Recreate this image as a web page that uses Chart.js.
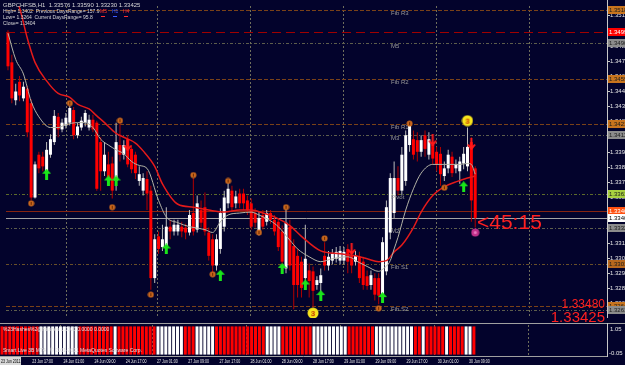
<!DOCTYPE html>
<html>
<head>
<meta charset="utf-8">
<title>GBPCHF H1</title>
<script src="https://cdn.jsdelivr.net/npm/chart.js"></script>
<style>
  html, body { margin: 0; padding: 0; background: #03032c; }
  #wrap { position: relative; width: 625px; height: 365px; overflow: hidden; background: #03032c; }
  #wrap canvas { position: absolute; left: 0; }
  #mainChart { top: 0; }
  #subChart { top: 321px; }
</style>
</head>
<body>
<div id="wrap">
  <canvas id="mainChart" width="625" height="324"></canvas>
  <canvas id="subChart" width="625" height="44"></canvas>
</div>
<script>
// GBPCHF H1, one entry per hourly bar, 23 Jun 09:00 -> 30 Jun 2011
const barOpen = [
  1.34987, 1.34737, 1.34412, 1.3457, 1.34428, 1.34512, 1.34387, 1.33578, 1.33945, 1.33928,
  1.33803, 1.33945, 1.34053, 1.3427, 1.34162, 1.34195, 1.3422, 1.34328, 1.34112, 1.34178,
  1.3422, 1.34178, 1.34245, 1.3422, 1.34053, 1.33803, 1.33862, 1.3387, 1.3372, 1.34028,
  1.33945, 1.34078, 1.33995, 1.33945, 1.3372, 1.33637, 1.33737, 1.33637, 1.32887, 1.33245,
  1.33153, 1.33162, 1.33328, 1.33287, 1.33287, 1.33328, 1.3332, 1.33278, 1.33445, 1.33303,
  1.3347, 1.33495, 1.33278, 1.3322, 1.32995, 1.33137, 1.33328, 1.33528, 1.33637, 1.33528,
  1.33612, 1.33612, 1.33553, 1.33528, 1.33445, 1.33287, 1.33428, 1.3337, 1.33445, 1.33387,
  1.3337, 1.33287, 1.3297, 1.33328, 1.33162, 1.33078, 1.33028, 1.32887, 1.32953, 1.32945,
  1.32828, 1.32845, 1.33078, 1.32995, 1.33037, 1.33053, 1.33037, 1.33037, 1.33137, 1.33078,
  1.33028, 1.3307, 1.33028, 1.32903, 1.32828, 1.32887, 1.32887, 1.32745, 1.32945, 1.33278,
  1.33445, 1.33745, 1.33637, 1.3372, 1.34028, 1.34078, 1.3407, 1.3397, 1.34112, 1.33945,
  1.34028, 1.3397, 1.33953, 1.33762, 1.33828, 1.33928, 1.33828, 1.33803, 1.3387, 1.33845,
  1.34053, 1.33828
];
const barHigh = [
  1.35012, 1.34803, 1.34553, 1.3462, 1.3457, 1.34537, 1.3442, 1.33887, 1.3397, 1.3397,
  1.34053, 1.3412, 1.34328, 1.34303, 1.34253, 1.34303, 1.34362, 1.34353, 1.3422, 1.3427,
  1.34328, 1.34287, 1.34287, 1.34237, 1.34095, 1.34053, 1.3397, 1.33928, 1.3422, 1.3422,
  1.3407, 1.34112, 1.34028, 1.3397, 1.33845, 1.33787, 1.33803, 1.33678, 1.33262, 1.33287,
  1.33345, 1.33495, 1.33387, 1.33387, 1.33387, 1.3337, 1.33353, 1.3347, 1.33745, 1.33595,
  1.33553, 1.3362, 1.3332, 1.33262, 1.33262, 1.33487, 1.33637, 1.3372, 1.33678, 1.33637,
  1.33653, 1.33653, 1.33595, 1.3357, 1.33487, 1.33453, 1.3347, 1.3347, 1.3347, 1.33428,
  1.33403, 1.33337, 1.33487, 1.33387, 1.3322, 1.33137, 1.3307, 1.33345, 1.33012, 1.32987,
  1.32903, 1.3297, 1.33195, 1.3312, 1.33137, 1.33153, 1.33162, 1.33153, 1.33178, 1.3312,
  1.3312, 1.33112, 1.3307, 1.32953, 1.32953, 1.32928, 1.32928, 1.33237, 1.33553, 1.33787,
  1.33887, 1.33845, 1.34012, 1.34153, 1.34203, 1.34153, 1.34137, 1.34112, 1.34153, 1.34137,
  1.3407, 1.34012, 1.34012, 1.33887, 1.33987, 1.3397, 1.33903, 1.33928, 1.34012, 1.34178,
  1.34095, 1.33845
];
const barLow = [
  1.3467, 1.34387, 1.3437, 1.34403, 1.34403, 1.34095, 1.33553, 1.3357, 1.33787, 1.33803,
  1.33787, 1.3392, 1.34028, 1.34095, 1.34137, 1.3417, 1.34195, 1.34078, 1.34087, 1.34153,
  1.34187, 1.34153, 1.34137, 1.33637, 1.33637, 1.33762, 1.3372, 1.3357, 1.33637, 1.33887,
  1.33903, 1.33837, 1.33787, 1.33737, 1.33678, 1.33595, 1.3347, 1.32787, 1.32845, 1.33095,
  1.3312, 1.33137, 1.3322, 1.33253, 1.33253, 1.33237, 1.3322, 1.33253, 1.33253, 1.33278,
  1.3332, 1.33253, 1.33037, 1.32928, 1.32953, 1.33095, 1.33287, 1.33487, 1.33453, 1.33487,
  1.33487, 1.3347, 1.33428, 1.33303, 1.3332, 1.33253, 1.33303, 1.33337, 1.33353, 1.33253,
  1.3312, 1.32987, 1.32928, 1.32953, 1.3262, 1.3272, 1.3272, 1.32803, 1.3272, 1.32637,
  1.32787, 1.32762, 1.32953, 1.32953, 1.33003, 1.3302, 1.33003, 1.33003, 1.32928, 1.32928,
  1.32995, 1.32845, 1.32787, 1.32787, 1.32787, 1.32695, 1.32662, 1.3272, 1.32912, 1.3322,
  1.33403, 1.33595, 1.33595, 1.33678, 1.3397, 1.33903, 1.33887, 1.33928, 1.33928, 1.33903,
  1.33862, 1.33803, 1.33678, 1.3372, 1.33787, 1.33753, 1.33787, 1.33695, 1.3382, 1.33803,
  1.3337, 1.3332
];
const barClose = [
  1.34703, 1.34428, 1.34487, 1.34453, 1.34528, 1.34137, 1.33578, 1.33862, 1.33828, 1.33845,
  1.33987, 1.34078, 1.34278, 1.34162, 1.3422, 1.34262, 1.34345, 1.34112, 1.34187, 1.34237,
  1.34303, 1.34245, 1.34162, 1.33653, 1.33803, 1.33945, 1.33745, 1.33637, 1.34053, 1.33945,
  1.34028, 1.33862, 1.3382, 1.33787, 1.33778, 1.33745, 1.33612, 1.32887, 1.3322, 1.33137,
  1.3322, 1.33328, 1.33287, 1.33345, 1.33345, 1.33287, 1.33278, 1.33428, 1.33287, 1.33528,
  1.33362, 1.33287, 1.33078, 1.32995, 1.3322, 1.33445, 1.33578, 1.33653, 1.33495, 1.33587,
  1.33528, 1.33528, 1.3347, 1.33328, 1.33362, 1.33403, 1.33328, 1.33445, 1.33387, 1.33287,
  1.33153, 1.33028, 1.33362, 1.32995, 1.32828, 1.32828, 1.32803, 1.33053, 1.32862, 1.32778,
  1.3287, 1.32912, 1.32995, 1.3307, 1.33095, 1.33112, 1.3312, 1.33112, 1.33028, 1.32995,
  1.33078, 1.32887, 1.32828, 1.3282, 1.32912, 1.32745, 1.32737, 1.33195, 1.33495, 1.33745,
  1.33745, 1.33637, 1.33945, 1.34112, 1.34195, 1.33945, 1.3397, 1.3407, 1.33995, 1.34078,
  1.33912, 1.33862, 1.33778, 1.33828, 1.33945, 1.33787, 1.33862, 1.33887, 1.33953, 1.34012,
  1.33553, 1.33403
];

// moving averages, read at the bars where they were traced
const maRedBar = [0, 3, 5, 7, 10, 13, 16, 18, 21, 23, 25, 28, 30, 33, 35, 38, 40, 44, 48, 52,
  56, 60, 63, 66, 69, 73, 76, 81, 86, 90, 93, 96, 98, 100, 102, 105, 107, 110, 113, 116, 119, 121];
const maRedVal = [1.35428, 1.35203, 1.34945, 1.34737, 1.34578, 1.3447, 1.34437, 1.34378, 1.34337, 1.34278,
  1.3422, 1.34128, 1.34095, 1.34045, 1.33978, 1.33845, 1.33695, 1.3352, 1.33495, 1.3347,
  1.33453, 1.3347, 1.3347, 1.33445, 1.33412, 1.33337, 1.33245, 1.3312, 1.33095, 1.33078,
  1.33053, 1.33028, 1.33037, 1.33112, 1.3317, 1.3332, 1.33453, 1.33595, 1.3367, 1.33712,
  1.33745, 1.33762];
const maGrayBar = [0, 2, 4, 6, 8, 11, 13, 15, 18, 20, 22, 24, 26, 28, 30, 32, 34, 36, 39, 41,
  44, 47, 51, 53, 55, 57, 60, 63, 65, 68, 70, 73, 75, 78, 81, 84, 88, 91, 93, 96,
  97, 99, 100, 101, 103, 105, 107, 110, 114, 117, 119, 120, 121];
const maGrayVal = [1.34987, 1.34762, 1.34637, 1.34403, 1.3427, 1.34178, 1.34178, 1.34203, 1.3422, 1.3422,
  1.34178, 1.34078, 1.34028, 1.33987, 1.33953, 1.33887, 1.33853, 1.33828, 1.33553, 1.33412,
  1.33362, 1.33328, 1.33303, 1.33278, 1.3337, 1.33428, 1.33445, 1.33453, 1.33428, 1.33378,
  1.33328, 1.33212, 1.33137, 1.3307, 1.33028, 1.33053, 1.3307, 1.3302, 1.32987, 1.32945,
  1.32962, 1.33037, 1.33137, 1.33237, 1.3347, 1.33653, 1.33787, 1.33862, 1.33862, 1.33862,
  1.3387, 1.33862, 1.33778];

// lower window: 1 = white bar, 0 = red bar
const histUp = [
  0, 0, 0, 0, 0, 0, 0, 0, 0, 0, 1, 1, 1, 1, 1, 1, 1, 1, 1, 1,
  0, 0, 0, 0, 0, 0, 0, 0, 0, 1, 0, 0, 0, 0, 0, 0, 0, 0, 0, 0,
  1, 1, 1, 1, 1, 1, 1, 0, 0, 0, 1, 1, 1, 1, 1, 0, 0, 0, 0, 0,
  0, 0, 0, 0, 0, 0, 0, 0, 1, 1, 1, 1, 0, 0, 0, 0, 0, 0, 0, 0,
  1, 1, 1, 1, 1, 1, 1, 1, 1, 0, 0, 0, 0, 0, 0, 0, 1, 1, 1, 1,
  1, 1, 1, 1, 1, 1, 0, 0, 1, 0, 0, 0, 0, 0, 1, 0, 0, 0, 0, 1,
  1, 0
];

const priceTicks = [1.3514, 1.3501, 1.3488, 1.3475, 1.3462, 1.3449, 1.3436, 1.3423, 1.341, 1.3397,
  1.3384, 1.3371, 1.3358, 1.3345, 1.3332, 1.3319, 1.3306, 1.3293, 1.328, 1.3267];
const timeLabelBars = [8, 16, 24, 32, 40, 48, 56, 64, 72, 80, 88, 96, 104, 112, 120];
const timeLabels = ['23 Jun 17:00', '24 Jun 01:00', '24 Jun 09:00', '24 Jun 17:00', '27 Jun 01:00',
  '27 Jun 09:00', '27 Jun 17:00', '28 Jun 01:00', '28 Jun 09:00', '28 Jun 17:00', '29 Jun 01:00',
  '29 Jun 09:00', '29 Jun 17:00', '30 Jun 01:00', '30 Jun 09:00'];

const levelPrices = [1.35187, 1.34995, 1.34903, 1.34595, 1.34212, 1.34112, 1.33612, 1.33462, 1.33403,
  1.3332, 1.33012, 1.32645, 1.32612];
const levelNames = ['Fib R3', '', 'M5', 'Fib R2', 'Fib R1', 'M3', 'Pivot', '', '', 'M2', 'Fib S1', 'Fib S2', ''];

const fractalBars = [6, 16, 27, 29, 37, 48, 53, 57, 65, 72, 82, 96, 104, 113];
const fractalPrices = [1.33528, 1.34387, 1.33495, 1.34237, 1.32745, 1.3377, 1.3292, 1.3372, 1.33278,
  1.33495, 1.33228, 1.32628, 1.34212, 1.33662];
const upArrowBars = [10, 26, 28, 41, 55, 71, 77, 81, 97, 118];
const upArrowPrices = [1.33778, 1.3372, 1.3372, 1.33137, 1.32912, 1.3297, 1.32828, 1.32737, 1.3272, 1.3367];
const downArrowBars = [31, 89, 110, 120];
const downArrowPrices = [1.34028, 1.33137, 1.3407, 1.34037];
const wave3Bars = [79, 119];
const wave3Prices = [1.32587, 1.34237];
const targetBars = [121];
const targetPrices = [1.33278];

// ---- look ----
const FONT = '"Liberation Sans", Arial, sans-serif';
const BULL = '#ffffff';
const BEAR = '#ff0000';
const AXIS = '#c8c8c8';
const GRID = '#6e6e5c';
const PX_PER_BAR = 3.9;
const xMin = -0.513;
const xMax = xMin + 607 / PX_PER_BAR;
const yMax = 1.3522;
const yMin = 1.3522 - 321 / 12000;
const gridBars = [14.9, 38.5, 62.6, 86.7, 110.8, 134.9];

const brown = { line: '#7a4218', dash: [4, 2], box: '#c8741e', text: '#1a1a1a' };
const grey = { line: '#5e5e4c', dash: [3, 2, 1, 2], box: '#8c8c8c', text: '#1a1a1a' };
const levelLook = [
  brown,
  { line: '#a00000', dash: [9, 5], box: '#ff0000', text: '#ffffff' },
  grey, brown, brown, grey,
  { line: '#5e6c2a', dash: [3, 2, 1, 2], box: '#a8d040', text: '#1a1a1a' },
  { line: '#862410', dash: [], box: '#ff5010', text: '#ffffff' },
  { line: '#a4a4a4', dash: [], box: '#ffffff', text: '#000000' },
  grey,
  { line: '#6a5028', dash: [3, 2, 1, 2], box: '#b8681e', text: '#1a1a1a' },
  brown, grey
];

function icon(w, h, paint) {
  const c = document.createElement('canvas');
  c.width = w; c.height = h;
  paint(c.getContext('2d'));
  return c;
}
const fractalIcon = icon(7, 7, g => {
  g.fillStyle = '#c8661c'; g.beginPath(); g.arc(3.5, 3.5, 3, 0, Math.PI * 2); g.fill();
  g.fillStyle = '#6a2800'; g.fillRect(3, 2, 1, 3);
});
const upIcon = icon(9, 11, g => {
  g.fillStyle = '#19e619';
  g.beginPath(); g.moveTo(4.5, 0); g.lineTo(9, 5); g.lineTo(6, 5); g.lineTo(6, 11);
  g.lineTo(3, 11); g.lineTo(3, 5); g.lineTo(0, 5); g.closePath(); g.fill();
});
const downIcon = icon(9, 12, g => {
  g.strokeStyle = '#ff1a1a'; g.lineWidth = 2;
  g.beginPath(); g.moveTo(4.5, 0); g.lineTo(4.5, 11); g.moveTo(1, 6.5); g.lineTo(4.5, 11); g.lineTo(8, 6.5); g.stroke();
});
const wave3Icon = icon(12, 12, g => {
  g.fillStyle = '#f7e51c'; g.beginPath(); g.arc(6, 6, 5.5, 0, Math.PI * 2); g.fill();
  g.fillStyle = '#c83a00'; g.font = 'bold 8px ' + FONT; g.textAlign = 'center'; g.textBaseline = 'middle';
  g.fillText('3', 6, 6.5);
});
const targetIcon = icon(9, 9, g => {
  g.fillStyle = '#c0308a'; g.beginPath(); g.arc(4.5, 4.5, 4, 0, Math.PI * 2); g.fill();
  g.fillStyle = '#e878c0'; g.beginPath(); g.arc(4.5, 4.5, 1.5, 0, Math.PI * 2); g.fill();
});

function narrowText(ctx, text, x, y, squeeze) {
  ctx.save();
  ctx.translate(x, y);
  ctx.scale(squeeze, 1);
  ctx.fillText(text, 0, 0);
  ctx.restore();
}

function drawGrid(chart) {
  const { ctx, chartArea: a, scales: { x } } = chart;
  ctx.save();
  ctx.strokeStyle = GRID; ctx.lineWidth = 1; ctx.setLineDash([2, 2]);
  gridBars.forEach(b => {
    const px = Math.round(x.getPixelForValue(b)) + 0.5;
    ctx.beginPath(); ctx.moveTo(px, a.top); ctx.lineTo(px, a.bottom); ctx.stroke();
  });
  ctx.restore();
}

const mainOverlay = {
  id: 'mainOverlay',
  beforeDatasetsDraw(chart) {
    drawGrid(chart);
    const { ctx, chartArea: a, scales: { y } } = chart;
    ctx.save();
    ctx.lineWidth = 1;
    levelPrices.forEach((p, k) => {
      const py = Math.round(y.getPixelForValue(p)) + 0.5;
      ctx.strokeStyle = levelLook[k].line;
      ctx.setLineDash(levelLook[k].dash);
      ctx.beginPath(); ctx.moveTo(a.left, py); ctx.lineTo(a.right, py); ctx.stroke();
    });
    ctx.restore();
  },
  afterDraw(chart) {
    const { ctx, chartArea: a, scales: { y } } = chart;
    ctx.save();
    // price scale on the right
    ctx.strokeStyle = AXIS; ctx.lineWidth = 1;
    ctx.beginPath(); ctx.moveTo(a.right + 0.5, 0); ctx.lineTo(a.right + 0.5, a.bottom); ctx.stroke();
    ctx.font = '6px ' + FONT; ctx.textBaseline = 'middle'; ctx.fillStyle = '#e6e6e6';
    priceTicks.forEach(p => {
      const py = Math.round(y.getPixelForValue(p)) + 0.5;
      ctx.beginPath(); ctx.moveTo(a.right, py); ctx.lineTo(a.right + 3, py); ctx.stroke();
      ctx.fillText(p.toFixed(5), a.right + 3, py);
    });
    levelPrices.forEach((p, k) => {
      const py = Math.round(y.getPixelForValue(p));
      ctx.fillStyle = levelLook[k].box;
      ctx.fillRect(a.right + 1, py - 4, 17, 8);
      ctx.fillStyle = levelLook[k].text;
      ctx.fillText(p.toFixed(5), a.right + 2, py);
      if (levelNames[k]) {
        ctx.fillStyle = '#9a9a9a';
        ctx.fillText(levelNames[k], 391, py + 3.5);
      }
    });

    // info block, top left
    ctx.textBaseline = 'alphabetic';
    ctx.font = '6px ' + FONT; ctx.fillStyle = '#d8d8d8';
    ctx.fillText('GBPCHFSB,H1  1.33576 1.33590 1.33230 1.33425', 3, 7);
    ctx.font = '5px ' + FONT;
    ctx.fillText('High= 1.3402  Previous DaysRange= 157.9', 3, 13);
    ctx.fillText('Low= 1.3264  Current DaysRange= 95.8', 3, 19);
    ctx.fillText('Close= 1.3404', 3, 25);
    ctx.fillStyle = '#ff3030'; ctx.fillText('M5', 100, 13); ctx.fillRect(101, 16, 4, 1);
    ctx.fillStyle = '#3a5cff'; ctx.fillText('H1', 112, 13); ctx.fillRect(113, 16, 4, 1);
    ctx.fillStyle = '#ff3030'; ctx.fillText('H4', 123, 13); ctx.fillRect(124, 16, 4, 1);

    // countdown and price labels
    ctx.fillStyle = '#ff2020';
    ctx.font = '21px ' + FONT;
    ctx.fillText('<45:15', 477, 229);
    ctx.textAlign = 'right';
    ctx.font = '12px ' + FONT;
    ctx.fillText('1.33480', 605, 308);
    ctx.font = '15px ' + FONT;
    ctx.fillText('1.33425', 605, 322);
    ctx.restore();
  }
};

const subOverlay = {
  id: 'subOverlay',
  beforeDatasetsDraw(chart) {
    drawGrid(chart);
  },
  afterDraw(chart) {
    const { ctx, chartArea: a, scales: { x } } = chart;
    ctx.save();
    ctx.strokeStyle = '#a0a0a0'; ctx.lineWidth = 1;
    ctx.beginPath();
    ctx.moveTo(0, 2.5); ctx.lineTo(625, 2.5);
    ctx.moveTo(0, a.bottom + 0.5); ctx.lineTo(a.right, a.bottom + 0.5);
    ctx.stroke();
    ctx.strokeStyle = AXIS;
    ctx.beginPath(); ctx.moveTo(a.right + 0.5, 2); ctx.lineTo(a.right + 0.5, a.bottom + 1); ctx.stroke();
    ctx.font = '6px ' + FONT; ctx.fillStyle = '#e6e6e6';
    ctx.fillText('1.05', a.right + 3, 10);
    ctx.fillText('-0.05', a.right + 2, 34);

    ctx.font = '5px ' + FONT; ctx.fillStyle = '#e0e0e0';
    ctx.fillText('%23Hashes%2@Hashes 1.0000 0.0000 0.0000', 3, 10);
    ctx.fillText('Smart Live 3B MT4   \u00a9 2001-2011 MetaQuotes Software Corp.', 3, 31);

    // time scale
    ctx.fillStyle = '#d8d8d8';
    ctx.fillRect(0, 36, 21, 8);
    ctx.fillStyle = '#000000';
    narrowText(ctx, '23 Jun 2011', 1, 42, 0.72);
    ctx.fillStyle = '#e6e6e6';
    timeLabelBars.forEach((b, k) => {
      const px = x.getPixelForValue(b);
      narrowText(ctx, timeLabels[k], px - 1, 42, 0.72);
    });
    ctx.restore();
  }
};

const isUp = barOpen.map((o, i) => barClose[i] >= o);

new Chart(document.getElementById('mainChart'), {
  type: 'bar',
  data: {
    datasets: [
      {
        type: 'bar',
        data: barOpen.map((o, i) => ({ x: i, y: [barLow[i], barHigh[i]] })),
        backgroundColor: isUp.map(u => (u ? '#bdbdbd' : '#b40000')),
        barThickness: 1, grouped: false, inflateAmount: 0, borderWidth: 0, order: 12
      },
      {
        type: 'bar',
        data: barOpen.map((o, i) => ({ x: i, y: [o, barClose[i]] })),
        backgroundColor: isUp.map(u => (u ? BULL : BEAR)),
        barThickness: 3, grouped: false, inflateAmount: 0, borderWidth: 0, minBarLength: 1, order: 11
      },
      {
        type: 'line',
        data: maRedBar.map((b, k) => ({ x: b, y: maRedVal[k] })),
        borderColor: '#e41a1a', borderWidth: 1.5, pointRadius: 0,
        cubicInterpolationMode: 'monotone', order: 4
      },
      {
        type: 'line',
        data: maGrayBar.map((b, k) => ({ x: b, y: maGrayVal[k] })),
        borderColor: '#b4b4a6', borderWidth: 1, pointRadius: 0,
        cubicInterpolationMode: 'monotone', order: 3
      },
      {
        type: 'scatter',
        data: fractalBars.map((b, k) => ({ x: b, y: fractalPrices[k] })),
        pointStyle: fractalIcon, pointRadius: 4, order: 2
      },
      {
        type: 'scatter',
        data: upArrowBars.map((b, k) => ({ x: b, y: upArrowPrices[k] })),
        pointStyle: upIcon, pointRadius: 4, order: 1
      },
      {
        type: 'scatter',
        data: downArrowBars.map((b, k) => ({ x: b, y: downArrowPrices[k] })),
        pointStyle: downIcon, pointRadius: 4, order: 1
      },
      {
        type: 'scatter',
        data: wave3Bars.map((b, k) => ({ x: b, y: wave3Prices[k] })),
        pointStyle: wave3Icon, pointRadius: 5, order: 1
      },
      {
        type: 'scatter',
        data: targetBars.map((b, k) => ({ x: b, y: targetPrices[k] })),
        pointStyle: targetIcon, pointRadius: 4, order: 1
      }
    ]
  },
  options: {
    responsive: false,
    animation: false,
    devicePixelRatio: 1,
    events: [],
    layout: { padding: { left: 0, top: 0, right: 18, bottom: 3 } },
    plugins: { legend: { display: false }, tooltip: { enabled: false } },
    scales: {
      x: { type: 'linear', min: xMin, max: xMax, offset: false, display: false },
      y: { type: 'linear', min: yMin, max: yMax, display: false }
    }
  },
  plugins: [mainOverlay]
});

new Chart(document.getElementById('subChart'), {
  type: 'bar',
  data: {
    datasets: [{
      data: histUp.map((u, i) => ({ x: i, y: 1 })),
      backgroundColor: histUp.map(u => (u ? '#ffffff' : '#ff0000')),
      barThickness: 3, inflateAmount: 0, borderWidth: 0
    }]
  },
  options: {
    responsive: false,
    animation: false,
    devicePixelRatio: 1,
    events: [],
    layout: { padding: { left: 0, top: 4, right: 18, bottom: 9 } },
    plugins: { legend: { display: false }, tooltip: { enabled: false } },
    scales: {
      x: { type: 'linear', min: xMin, max: xMax, offset: false, display: false },
      y: { min: -0.05, max: 1.05, display: false }
    }
  },
  plugins: [subOverlay]
});
</script>
</body>
</html>
